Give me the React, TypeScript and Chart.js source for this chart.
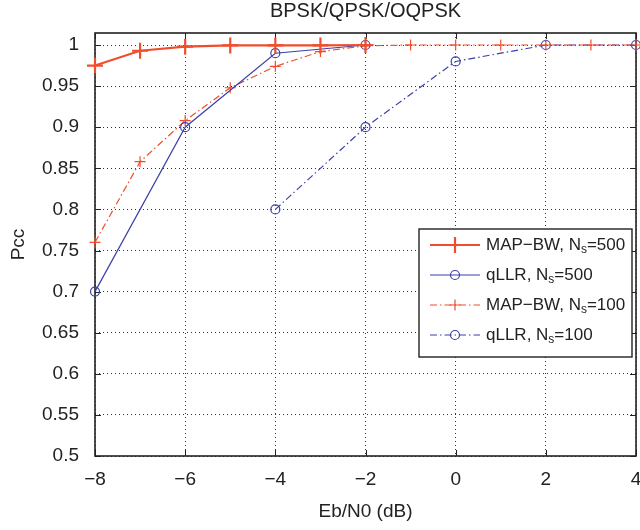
import React, { useEffect, useRef } from 'react';
import { Chart, registerables } from 'chart.js';

Chart.register(...registerables);

// ---- data ----
const chartTitle = 'BPSK/QPSK/OQPSK';
const xTickValues = [-8, -6, -4, -2, 0, 2, 4];
const yTickValues = [0.5, 0.55, 0.6, 0.65, 0.7, 0.75, 0.8, 0.85, 0.9, 0.95, 1.0];

const mapBw500X = [-8, -7, -6, -5, -4, -3, -2];
const mapBw500Y = [0.975, 0.993, 0.998, 0.9995, 0.9995, 0.9995, 1.0];

const qllr500X = [-8, -6, -4, -2];
const qllr500Y = [0.7, 0.9, 0.99, 1.0];

const mapBw100X = [-8, -7, -6, -5, -4, -3, -2, -1, 0, 1, 2, 3, 4];
const mapBw100Y = [0.76, 0.858, 0.908, 0.948, 0.974, 0.992, 0.999, 1.0, 1.0, 1.0, 1.0, 1.0, 1.0];

const qllr100X = [-4, -2, 0, 2, 4];
const qllr100Y = [0.8, 0.9, 0.98, 1.0, 1.0];

const legendNames = ['MAP\u2212BW, N', 'qLLR, N', 'MAP\u2212BW, N', 'qLLR, N'];
const legendSizes = ['500', '500', '100', '100'];

// ---- styles ----
const RED = '#ef4e2c';
const BLUE = '#3b40a8';
const DASHDOT = [7, 3, 1.5, 3];
const FONT = '"Liberation Sans", Arial, Helvetica, sans-serif';
const TXT = '#222';

const toPts = (xs: number[], ys: number[]) => xs.map((x, i) => ({ x, y: ys[i] }));

const seriesStyles = [
  { color: RED, width: 2.2, dash: [] as number[], marker: 'cross', r: 8 },
  { color: BLUE, width: 1.2, dash: [] as number[], marker: 'circle', r: 4.5 },
  { color: RED, width: 1.2, dash: DASHDOT, marker: 'cross', r: 5.5 },
  { color: BLUE, width: 1.2, dash: DASHDOT, marker: 'circle', r: 4.5 },
];

const framePlugin = {
  id: 'frame',
  beforeDatasetsDraw(chart: any) {
    const { ctx, chartArea: a, scales } = chart;
    const L = Math.round(a.left), R = Math.round(a.right), T = Math.round(a.top), B = Math.round(a.bottom);
    ctx.save();
    ctx.strokeStyle = TXT;
    ctx.lineWidth = 1;
    const tl = 6;
    ctx.beginPath();
    for (const v of xTickValues) {
      const x = Math.round(scales.x.getPixelForValue(v)) + 0.5;
      ctx.moveTo(x, B); ctx.lineTo(x, B - tl);
      ctx.moveTo(x, T); ctx.lineTo(x, T + tl);
    }
    for (const v of yTickValues) {
      const y = Math.round(scales.y.getPixelForValue(v)) + 0.5;
      ctx.moveTo(L, y); ctx.lineTo(L + tl, y);
      ctx.moveTo(R, y); ctx.lineTo(R - tl, y);
    }
    ctx.stroke();
    ctx.lineWidth = 1.6;
    ctx.strokeRect(L, T, R - L, B - T);
    // title centred over the plot area
    ctx.fillStyle = TXT;
    ctx.font = `20px ${FONT}`;
    ctx.textAlign = 'center';
    ctx.textBaseline = 'middle';
    ctx.fillText(chartTitle, (a.left + a.right) / 2, 11);
    ctx.restore();
  },
};

const drawMarker = (ctx: CanvasRenderingContext2D, kind: string, x: number, y: number, r: number) => {
  ctx.beginPath();
  if (kind === 'cross') {
    ctx.moveTo(x - r, y); ctx.lineTo(x + r, y);
    ctx.moveTo(x, y - r); ctx.lineTo(x, y + r);
  } else {
    ctx.arc(x, y, r, 0, Math.PI * 2);
  }
  ctx.stroke();
};

const legendPlugin = {
  id: 'matlabLegend',
  afterDatasetsDraw(chart: any) {
    const { ctx, chartArea: a } = chart;
    const boxR = Math.round(a.right) - 4;
    const boxL = boxR - 213;
    const boxT = 229;
    const boxH = 128;
    ctx.save();
    ctx.fillStyle = '#fff';
    ctx.fillRect(boxL, boxT, boxR - boxL, boxH);
    ctx.strokeStyle = TXT;
    ctx.lineWidth = 1.4;
    ctx.strokeRect(boxL, boxT, boxR - boxL, boxH);
    const rowY = [245, 275, 305, 335];
    seriesStyles.forEach((s, i) => {
      const y = rowY[i];
      const x0 = boxL + 11, x1 = boxL + 61, xm = (x0 + x1) / 2;
      ctx.strokeStyle = s.color;
      ctx.lineWidth = s.width;
      ctx.setLineDash(s.dash);
      ctx.beginPath(); ctx.moveTo(x0, y); ctx.lineTo(x1, y); ctx.stroke();
      ctx.setLineDash([]);
      ctx.lineWidth = s.marker === 'cross' ? s.width : 1.2;
      drawMarker(ctx, s.marker, xm, y, s.r);
      let tx = boxL + 67;
      ctx.fillStyle = TXT;
      ctx.textBaseline = 'middle';
      ctx.textAlign = 'left';
      ctx.font = `17px ${FONT}`;
      ctx.fillText(legendNames[i], tx, y);
      tx += ctx.measureText(legendNames[i]).width;
      ctx.font = `12px ${FONT}`;
      ctx.fillText('s', tx, y + 5);
      tx += ctx.measureText('s').width;
      ctx.font = `17px ${FONT}`;
      ctx.fillText('=' + legendSizes[i], tx, y);
    });
    ctx.restore();
  },
};

export default function App() {
  const ref = useRef<HTMLCanvasElement | null>(null);
  useEffect(() => {
    if (!ref.current) return;
    const datasets = [
      toPts(mapBw500X, mapBw500Y),
      toPts(qllr500X, qllr500Y),
      toPts(mapBw100X, mapBw100Y),
      toPts(qllr100X, qllr100Y),
    ].map((data, i) => {
      const s = seriesStyles[i];
      return {
        data,
        borderColor: s.color,
        borderWidth: s.width,
        borderDash: s.dash,
        backgroundColor: 'transparent',
        pointStyle: s.marker === 'cross' ? 'cross' : 'circle',
        pointRadius: s.r,
        pointBorderWidth: s.marker === 'cross' ? s.width : 1.2,
        pointBorderColor: s.color,
        pointBackgroundColor: 'transparent',
        tension: 0,
        clip: false as any,
        order: i,
      };
    });
    const chart = new Chart(ref.current, {
      type: 'line',
      data: { datasets },
      options: {
        responsive: false,
        animation: false,
        parsing: false as any,
        layout: { autoPadding: false, padding: { left: 0, right: 4, top: 33, bottom: 0 } },
        plugins: {
          legend: { display: false },
          tooltip: { enabled: false },
          title: { display: false },
        },
        scales: {
          x: {
            type: 'linear',
            min: -8,
            max: 4,
            afterBuildTicks: (s: any) => { s.ticks = xTickValues.map((v) => ({ value: v })); },
            afterFit: (s: any) => { s.height = 74; s.paddingLeft = 0; s.paddingRight = 0; },
            ticks: {
              color: TXT,
              font: { family: FONT, size: 19 },
              padding: 12,
              maxRotation: 0,
              callback: (v: any) => (v < 0 ? '\u2212' + Math.abs(v) : String(v)),
            },
            grid: { color: '#333', lineWidth: 1, drawTicks: false },
            border: { display: false, dash: [1, 3] },
            title: {
              display: true,
              text: 'Eb/N0 (dB)',
              color: TXT,
              font: { family: FONT, size: 19 },
              padding: { top: 0, bottom: 7 },
            },
          },
          y: {
            type: 'linear',
            min: 0.5,
            max: 1.0146,
            afterBuildTicks: (s: any) => { s.ticks = yTickValues.map((v) => ({ value: v })); },
            afterFit: (s: any) => { s.width = 95; s.paddingTop = 0; s.paddingBottom = 0; },
            ticks: {
              color: TXT,
              font: { family: FONT, size: 19 },
              padding: 16,
              callback: (v: any) => String(Number(Number(v).toFixed(2))),
            },
            grid: { color: '#333', lineWidth: 1, drawTicks: false },
            border: { display: false, dash: [1, 3] },
            title: {
              display: true,
              text: 'Pcc',
              color: TXT,
              font: { family: FONT, size: 19 },
              padding: { top: 7, bottom: 0 },
            },
          },
        },
      },
      plugins: [framePlugin, legendPlugin],
    });
    return () => chart.destroy();
  }, []);
  return (
    <div style={{ position: 'absolute', left: 0, top: 0, width: 640, height: 530, background: '#fff' }}>
      <canvas ref={ref} width={640} height={530} style={{ display: 'block', width: 640, height: 530 }} />
    </div>
  );
}
